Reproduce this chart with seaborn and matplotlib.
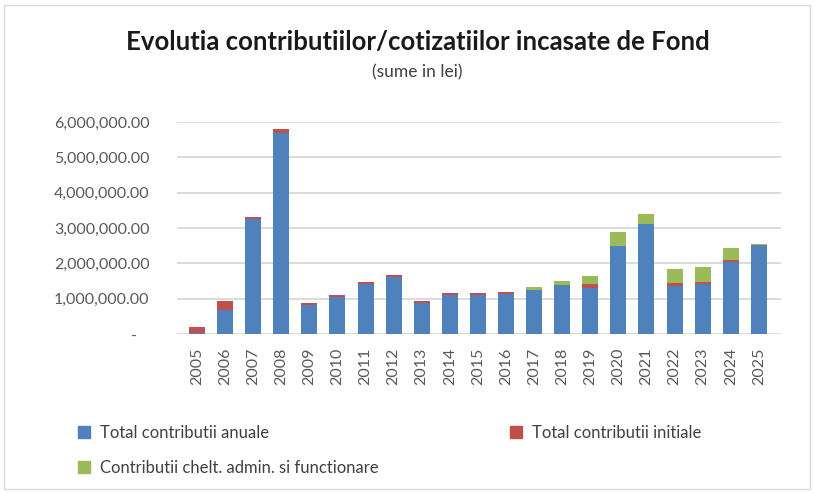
import matplotlib
matplotlib.use('Agg')
import matplotlib.pyplot as plt
import seaborn as sns
import numpy as np
from matplotlib.ticker import FuncFormatter
from matplotlib.patches import Patch, Rectangle

sns.set_theme(style="white")
plt.rcParams['font.family'] = ['Lato', 'DejaVu Sans']

years = [str(y) for y in range(2005, 2026)]
anuale = [30000, 670000, 3250000, 5700000, 820000, 1040000, 1420000, 1600000, 870000, 1100000,
          1090000, 1120000, 1240000, 1380000, 1310000, 2500000, 3100000, 1370000, 1420000, 2040000, 2520000]
initiale = [170000, 260000, 70000, 110000, 60000, 60000, 60000, 60000, 60000, 60000,
            60000, 60000, 10000, 10000, 110000, 0, 0, 60000, 60000, 50000, 0]
admin = [0, 0, 0, 0, 0, 0, 0, 0, 0, 0,
         0, 0, 80000, 110000, 220000, 380000, 290000, 420000, 410000, 340000, 40000]

c_blue = '#4F81BD'
c_red = '#C0504D'
c_green = '#9BBB59'
grey = '#595959'

anuale = np.array(anuale)
initiale = np.array(initiale)
admin = np.array(admin)
lvl2 = anuale + initiale
lvl3 = lvl2 + admin

fig = plt.figure(figsize=(8.14, 4.93), dpi=100)
ax = fig.add_axes([0.2178, 0.3225, 0.742, 0.430])

# stacked: draw totals first, then cover with the lower parts
bw = 0.57
sns.barplot(x=years, y=lvl3, color=c_green, saturation=1, width=bw, linewidth=0, ax=ax)
sns.barplot(x=years, y=lvl2, color=c_red, saturation=1, width=bw, linewidth=0, ax=ax)
sns.barplot(x=years, y=anuale, color=c_blue, saturation=1, width=bw, linewidth=0, ax=ax)

ax.set_xlim(-0.7, 20.8)
ax.set_ylim(0, 6000000)
ax.set_yticks(np.arange(0, 6000001, 1000000))
ax.yaxis.set_major_formatter(FuncFormatter(lambda v, p: '-   ' if v == 0 else f'{v:,.2f}'))
ax.yaxis.grid(True, color='#D9D9D9', linewidth=1.3)
ax.set_axisbelow(True)
for s in ax.spines.values():
    s.set_visible(False)
ax.tick_params(axis='y', length=0, pad=20, labelsize=11.5, labelcolor=grey)
ax.tick_params(axis='x', length=0, pad=10, labelsize=11.5, labelcolor=grey, rotation=90)
ax.set_xlabel('')
ax.set_ylabel('')

fig.text(0.513, 0.915, 'Evolutia contributiilor/cotizatiilor incasate de Fond',
         ha='center', va='center', fontsize=18.5, fontweight='bold', color='#1a1a1a')
fig.text(0.513, 0.854, '(sume in lei)', ha='center', va='center', fontsize=12.5, color='#404040')

leg_kw = dict(loc='upper left', frameon=False, fontsize=12, handlelength=0.7,
              handleheight=0.7, handletextpad=0.6, labelcolor='#404040')
fig.legend(handles=[Patch(color=c_blue, label='Total contributii anuale'),
                    Patch(color=c_green, label='Contributii chelt. admin. si functionare')],
           bbox_to_anchor=(0.078, 0.169), labelspacing=1.15, **leg_kw)
fig.legend(handles=[Patch(color=c_red, label='Total contributii initiale')],
           bbox_to_anchor=(0.608, 0.169), **leg_kw)

fig.patches.append(Rectangle((0.005, 0.008), 0.99, 0.982, transform=fig.transFigure,
                             fill=False, edgecolor='#D9D9D9', linewidth=1))

fig.savefig('out.png', dpi=100)
